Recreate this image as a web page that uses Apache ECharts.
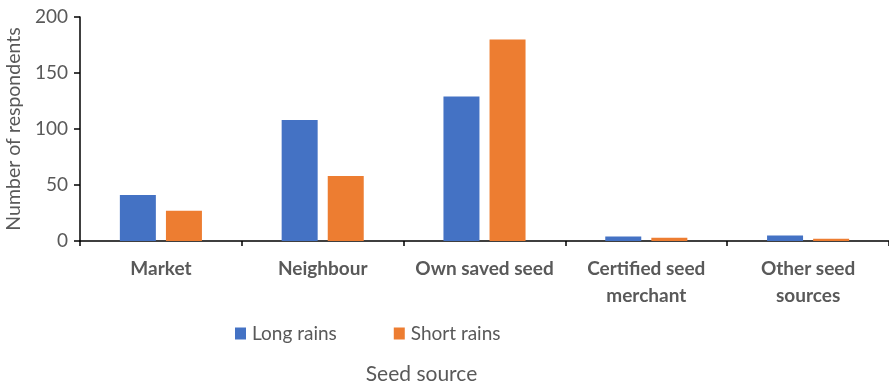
<!DOCTYPE html>
<html>
<head>
<meta charset="utf-8">
<script src="https://cdn.jsdelivr.net/npm/echarts@6/dist/echarts.min.js"></script>
<style>
  html, body { margin: 0; padding: 0; background: #fff; }
  #chart { width: 889px; height: 382px; }
</style>
</head>
<body>
<div id="chart"></div>
<script>
// Seed sources reported by respondents, per season
const categories = ['Market', 'Neighbour', 'Own saved seed', 'Certified seed\nmerchant', 'Other seed\nsources'];
const longRains = [41, 108, 129, 4, 5];
const shortRains = [27, 58, 180, 3, 2];
const seriesNames = ['Long rains', 'Short rains'];
const yTicks = { min: 0, max: 200, interval: 50 };

const FONT = 'Lato, "Open Sans", sans-serif';
const GREY = '#595959';

const chart = echarts.init(document.getElementById('chart'), null, { renderer: 'canvas' });

chart.setOption({
  animation: false,
  textStyle: { fontFamily: FONT },
  grid: { left: 80, right: 0, top: 17, bottom: 141, containLabel: false, outerBoundsMode: 'none' },
  legend: {
    data: seriesNames,
    left: 235,
    top: 324,
    padding: 0,
    itemWidth: 11,
    itemHeight: 12,
    itemGap: 57,
    icon: 'rect',
    textStyle: { fontFamily: FONT, fontSize: 19, color: GREY, padding: [0, 0, 0, 1] }
  },
  xAxis: {
    type: 'category',
    data: categories,
    axisLine: { lineStyle: { color: '#000', width: 1.5 } },
    axisTick: { show: true, length: 5, lineStyle: { color: '#000', width: 1.5 } },
    axisLabel: {
      color: GREY,
      fontFamily: FONT,
      fontSize: 19,
      fontWeight: 'bold',
      margin: 14,
      lineHeight: 27,
      interval: 0
    }
  },
  yAxis: {
    type: 'value',
    min: yTicks.min,
    max: yTicks.max,
    interval: yTicks.interval,
    name: 'Number of respondents',
    nameLocation: 'middle',
    nameGap: 54,
    nameTextStyle: { color: GREY, fontFamily: FONT, fontSize: 19.5 },
    axisLine: { show: true, lineStyle: { color: '#000', width: 1.5 } },
    axisTick: { show: true, length: 6, lineStyle: { color: '#000', width: 1.5 } },
    splitLine: { show: false },
    axisLabel: { color: GREY, fontFamily: FONT, fontSize: 19, margin: 12 }
  },
  graphic: [{
    type: 'text',
    x: 421.5,
    y: 374,
    style: {
      text: 'Seed source',
      font: '21px ' + FONT,
      fill: GREY,
      align: 'center',
      verticalAlign: 'middle'
    }
  }],
  series: [
    {
      name: seriesNames[0],
      type: 'bar',
      data: longRains,
      barWidth: 36,
      barGap: '28%',
      itemStyle: { color: '#4472C4' }
    },
    {
      name: seriesNames[1],
      type: 'bar',
      data: shortRains,
      barWidth: 36,
      itemStyle: { color: '#ED7D31' }
    }
  ]
});
</script>
</body>
</html>
